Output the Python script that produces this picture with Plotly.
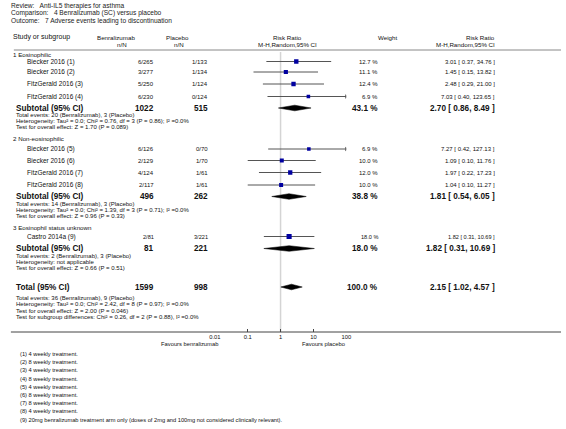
import plotly.graph_objects as go

W, H = 566, 429
FONT = "Liberation Sans, Arial, sans-serif"

# ---------------- data ----------------
title_lines = ["Review:   Anti-IL5 therapies for asthma",
               "Comparison:   4 Benralizumab (SC) versus placebo",
               "Outcome:   7 Adverse events leading to discontinuation"]

group_names = ["1 Eosinophilic", "2 Non-eosinophilic", "3 Eosinophil status unknown"]

study_names = ["Biecker 2016 (1)", "Biecker 2016 (2)", "FitzGerald 2016 (3)", "FitzGerald 2016 (4)",
               "Biecker 2016 (5)", "Biecker 2016 (6)", "FitzGerald 2016 (7)", "FitzGerald 2016 (8)",
               "Castro 2014a (9)"]
study_group = [0, 0, 0, 0, 1, 1, 1, 1, 2]
benra_nN = ["6/265", "3/277", "5/250", "6/230", "6/126", "2/129", "4/124", "2/117", "2/81"]
placebo_nN = ["1/133", "1/134", "1/124", "0/124", "0/70", "1/70", "1/61", "1/61", "3/221"]
study_weight = [12.7, 11.1, 12.4, 6.9, 6.9, 10.0, 12.0, 10.0, 18.0]
study_rr = [3.01, 1.45, 2.48, 7.03, 7.27, 1.09, 1.97, 1.04, 1.82]
study_lo = [0.37, 0.15, 0.29, 0.40, 0.42, 0.10, 0.22, 0.10, 0.31]
study_hi = [34.76, 13.82, 21.00, 123.65, 127.13, 11.76, 17.23, 11.27, 10.69]

sub_benra_N = ["1022", "496", "81"]
sub_placebo_N = ["515", "262", "221"]
sub_weight = [43.1, 38.8, 18.0]
sub_rr = [2.70, 1.81, 1.82]
sub_lo = [0.86, 0.54, 0.31]
sub_hi = [8.49, 6.05, 10.69]
sub_stats = [
    ["Total events: 20 (Benralizumab), 3 (Placebo)",
     "Heterogeneity: Tau² = 0.0; Chi² = 0.76, df = 3 (P = 0.86); I² =0.0%",
     "Test for overall effect: Z = 1.70 (P = 0.089)"],
    ["Total events: 14 (Benralizumab), 3 (Placebo)",
     "Heterogeneity: Tau² = 0.0; Chi² = 1.39, df = 3 (P = 0.71); I² =0.0%",
     "Test for overall effect: Z = 0.96 (P = 0.33)"],
    ["Total events: 2 (Benralizumab), 3 (Placebo)",
     "Heterogeneity: not applicable",
     "Test for overall effect: Z = 0.66 (P = 0.51)"],
]

total_benra_N = "1599"
total_placebo_N = "998"
total_weight = 100.0
total_rr, total_lo, total_hi = 2.15, 1.02, 4.57
total_stats = ["Total events: 36 (Benralizumab), 9 (Placebo)",
               "Heterogeneity: Tau² = 0.0; Chi² = 2.42, df = 8 (P = 0.97); I² =0.0%",
               "Test for overall effect: Z = 2.00 (P = 0.046)",
               "Test for subgroup differences: Chi² = 0.26, df = 2 (P = 0.88), I² =0.0%"]

tick_vals = [0.01, 0.1, 1, 10, 100]
tick_text = ["0.01", "0.1", "1", "10", "100"]
favours_left = "Favours benralizumab"
favours_right = "Favours placebo"

footnotes = ["(1) 4 weekly treatment.", "(2) 8 weekly treatment.", "(3) 4 weekly treatment.",
             "(4) 8 weekly treatment.", "(5) 4 weekly treatment.", "(6) 8 weekly treatment.",
             "(7) 8 weekly treatment.", "(8) 4 weekly treatment.",
             "(9) 20mg benralizumab treatment arm only (doses of 2mg and 100mg not considered clinically relevant)."]

# ---------------- layout positions (pixels) ----------------
AX_MIN, AX_MAX = 0.01, 100
PLOT_L, PLOT_R = 213, 347
AXIS_Y = 332
title_y = [6, 13, 20.5]
head_y1, head_y2, sep_y = 37, 44, 50
group_y = [54.5, 138, 227]
study_y = [61.5, 72, 84, 96.5, 149, 160.5, 172.5, 185, 236.5]
sub_y = [108, 196.5, 248.5]
sub_stat_y = [[115, 121, 127], [203.5, 209.5, 216], [255.5, 261.5, 268]]
total_y = 287
total_stat_y = [298, 304, 310.5, 317]
foot_y0, foot_dy = 354, 8.2

X_TITLE, X_STUDY_HDR, X_GROUP, X_STUDY, X_SUB, X_FOOT = 4, 6, 6, 20, 9, 13
X_BEN_HDR, X_BEN_NN, X_BEN = 112, 124, 152
X_PLA_HDR, X_PLA_NN, X_PLA = 175, 183, 207
X_RR_HDR = 287
X_WT_HDR, X_WT = 389, 380
X_RRT = 500

BLUE = "#0000a0"
GREY = "#555555"

fig = go.Figure()
ann = []


def txt(x, y, s, anchor="left", size=6.3, bold=False, color="#111111"):
    ann.append(dict(x=x / W, y=y, xref="paper", yref="y", text=(f"<b>{s}</b>" if bold else s),
                    showarrow=False, xanchor=anchor, yanchor="middle",
                    font=dict(family=FONT, size=size, color=color), borderpad=0))


# titles
for s, y in zip(title_lines, title_y):
    txt(X_TITLE, y, s, size=6.6, color="#222222")

# headers
txt(X_STUDY_HDR, head_y1, "Study or subgroup", size=7.0)
txt(X_BEN_HDR, head_y1, "Benralizumab", "center", size=6.2)
txt(X_BEN_NN, head_y2, "n/N", "right", size=6.2)
txt(X_PLA_HDR, head_y1, "Placebo", "center", size=6.2)
txt(X_PLA_NN, head_y2, "n/N", "right", size=6.2)
txt(X_RR_HDR, head_y1, "Risk Ratio", "center", size=6.2)
txt(X_RR_HDR, head_y2, "M-H,Random,95% CI", "center", size=6.2)
txt(X_WT_HDR, head_y1, "Weight", "center", size=6.2)
txt(X_RRT, head_y1, "Risk Ratio", "right", size=6.2)
txt(X_RRT, head_y2, "M-H,Random,95% CI", "right", size=6.2)

# groups
for g, y in zip(group_names, group_y):
    txt(X_GROUP, y, g, size=6.2)


def fmt_ci(rr, lo, hi):
    return f"{rr:.2f} [ {lo:.2f}, {hi:.2f} ]"


# study rows
for i, name in enumerate(study_names):
    y = study_y[i]
    sz = 5.6 if i == 8 else 6.0
    txt(X_STUDY, y, name, size=6.5)
    txt(X_BEN, y, benra_nN[i], "right", size=sz)
    txt(X_PLA, y, placebo_nN[i], "right", size=sz)
    txt(X_WT, y, f"{study_weight[i]:.1f} %", "right", size=sz)
    txt(X_RRT, y, fmt_ci(study_rr[i], study_lo[i], study_hi[i]), "right", size=sz)
    lo = max(study_lo[i], AX_MIN)
    hi = min(study_hi[i], AX_MAX)
    fig.add_trace(go.Scatter(x=[lo, hi], y=[y, y], mode="lines",
                             line=dict(color=GREY, width=1), hoverinfo="skip", showlegend=False))
    if study_hi[i] > AX_MAX:
        fig.add_trace(go.Scatter(x=[hi], y=[y], mode="markers",
                                 marker=dict(symbol="triangle-right", size=4, color=GREY),
                                 hoverinfo="skip", showlegend=False))
    fig.add_trace(go.Scatter(x=[study_rr[i]], y=[y], mode="markers",
                             marker=dict(symbol="square", size=2.6 + study_weight[i] * 0.14, color=BLUE,
                                         line=dict(width=0)),
                             hoverinfo="skip", showlegend=False))

DH = 2.8


def diamond(rr, lo, hi, y):
    fig.add_trace(go.Scatter(x=[lo, rr, hi, rr, lo], y=[y, y - DH, y, y + DH, y], mode="lines",
                             fill="toself", fillcolor="black", line=dict(color="black", width=0.5),
                             hoverinfo="skip", showlegend=False))


BS = 8.2
SS = 6.0
# subtotals
for k in range(3):
    y = sub_y[k]
    txt(X_SUB, y, "Subtotal (95% CI)", size=BS, bold=True)
    txt(X_BEN, y, sub_benra_N[k], "right", size=BS, bold=True)
    txt(X_PLA, y, sub_placebo_N[k], "right", size=BS, bold=True)
    txt(X_WT, y, f"{sub_weight[k]:.1f} %", "right", size=BS, bold=True)
    txt(X_RRT, y, fmt_ci(sub_rr[k], sub_lo[k], sub_hi[k]), "right", size=BS, bold=True)
    diamond(sub_rr[k], sub_lo[k], sub_hi[k], y)
    for s, sy in zip(sub_stats[k], sub_stat_y[k]):
        txt(X_SUB, sy, s, size=SS)

# total
txt(X_SUB, total_y, "Total (95% CI)", size=BS, bold=True)
txt(X_BEN, total_y, total_benra_N, "right", size=BS, bold=True)
txt(X_PLA, total_y, total_placebo_N, "right", size=BS, bold=True)
txt(X_WT, total_y, f"{total_weight:.1f} %", "right", size=BS, bold=True)
txt(X_RRT, total_y, fmt_ci(total_rr, total_lo, total_hi), "right", size=BS, bold=True)
diamond(total_rr, total_lo, total_hi, total_y)
for s, sy in zip(total_stats, total_stat_y):
    txt(X_SUB, sy, s, size=SS)

# favours labels
txt(217, 344, favours_left, "right", size=5.8)
txt(301, 344, favours_right, "left", size=5.8)

# footnotes
for j, s in enumerate(footnotes):
    txt(X_FOOT, foot_y0 + j * foot_dy, s, size=5.7)

shapes = [
    dict(type="line", xref="paper", yref="y", x0=8 / W, x1=1, y0=sep_y, y1=sep_y,
         line=dict(color="#888888", width=1)),
    dict(type="line", xref="paper", yref="y", x0=5 / W, x1=1, y0=AXIS_Y, y1=AXIS_Y,
         line=dict(color="#444444", width=1)),
    dict(type="line", xref="x", yref="y", x0=1, x1=1, y0=52, y1=AXIS_Y,
         line=dict(color="#d4d4d4", width=1.5), layer="below"),
]

fig.update_layout(
    width=W, height=H, margin=dict(l=0, r=0, t=0, b=0),
    paper_bgcolor="white", plot_bgcolor="rgba(0,0,0,0)",
    annotations=ann, shapes=shapes, showlegend=False,
    xaxis=dict(type="log", range=[-2, 2], domain=[PLOT_L / W, PLOT_R / W],
               anchor="free", position=1 - AXIS_Y / H,
               tickvals=tick_vals, ticktext=tick_text, ticks="inside", ticklen=3,
               tickcolor="#444444", tickwidth=1,
               showgrid=False, zeroline=False, showline=False,
               tickfont=dict(family=FONT, size=5.8, color="#111111")),
    yaxis=dict(range=[H, 0], domain=[0, 1], visible=False, showgrid=False, zeroline=False),
)

fig.write_html("out.html", config={"displayModeBar": False},
               post_script="document.body.style.margin='0';document.body.style.overflow='hidden';")
